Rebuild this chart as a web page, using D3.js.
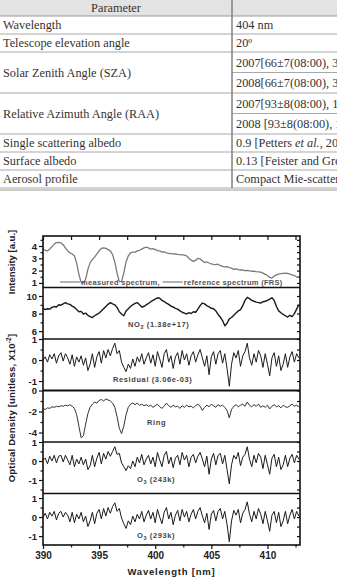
<!DOCTYPE html>
<html>
<head>
<meta charset="utf-8">
<script src="https://cdn.jsdelivr.net/npm/d3@7"></script>
<style>
  body { margin: 0; background: #fff; }
</style>
</head>
<body>
<div id="chart"></div>
<script>
/**
 * DATA
 * */
// table
const paramLabels = ["Wavelength", "Telescope elevation angle", "Solar Zenith Angle (SZA)",
  "Relative Azimuth Angle (RAA)", "Single scattering albedo", "Surface albedo", "Aerosol profile"];
// "|" toggles italic
const paramValues = [
  ["404 nm"],
  ["20º"],
  ["2007[66±7(08:00), 35±5(12:00), 66±7(16:00)]", "2008[66±7(08:00), 34±5(12:00), 66±7(16:00)]"],
  ["2007[93±8(08:00), 180±5(12:00), 267±8(16:00)]", "2008 [93±8(08:00), 180±5(12:00), 267±8(16:00)]"],
  ["0.9 [Petters |et al.|, 2003]"],
  ["0.13 [Feister and Grewe, 1995]"],
  ["Compact Mie-scattering"]
];

// spectra, sampled every 0.2 nm from 390 nm
const wlStart = 390, wlStep = 0.2;

const intensity = [
  3.75, 3.65, 3.6, 3.75, 3.95, 4.15, 4.28, 4.3, 4.25, 4.1,
  3.85, 3.6, 3.45, 3.35, 3.2, 2.6, 1.7, 1.05, 1.0, 1.3,
  2.1, 2.65, 2.9, 3.1, 3.35, 3.6, 3.8, 3.85, 3.8, 3.7,
  3.6, 3.3, 2.7, 1.8, 1.1, 1.1, 1.8, 2.7, 3.2, 3.45,
  3.5, 3.5, 3.6, 3.65, 3.75, 3.85, 3.9, 3.85, 3.75, 3.78,
  3.7, 3.62, 3.6, 3.5, 3.52, 3.45, 3.4, 3.38, 3.36, 3.35,
  3.32, 3.3, 3.28, 3.25, 3.2, 3.0, 2.85, 2.75, 2.85, 3.0,
  2.95, 2.8, 2.65, 2.7, 2.62, 2.55, 2.5, 2.48, 2.52, 2.4,
  2.35, 2.3, 2.32, 2.25, 2.2, 2.1, 2.15, 2.08, 2.05, 2.05,
  2.0, 2.02, 1.98, 1.95, 1.95, 1.92, 1.9, 1.88, 1.8, 1.7,
  1.6, 1.45, 1.4, 1.55, 1.65, 1.72, 1.75, 1.78, 1.8, 1.78,
  1.72, 1.65, 1.6, 1.5, 1.45
];

const no2 = [
  8.6, 8.45, 8.55, 8.5, 8.7, 8.8, 8.75, 9.0, 8.95, 9.1,
  9.25, 9.1, 9.05, 8.85, 8.7, 8.45, 8.2, 8.25, 7.95, 8.05,
  7.8, 7.65, 7.55, 7.75, 7.9, 8.05, 8.3, 8.55, 8.8, 9.05,
  9.25, 9.1, 9.0, 8.7, 8.2, 7.95, 7.75, 8.3, 8.55, 8.8,
  9.0, 9.15, 9.25, 9.0, 8.75, 8.8, 9.0, 9.15, 9.35, 9.5,
  9.65, 9.8, 9.75, 9.5, 9.35, 9.2, 9.05, 8.85, 8.75, 8.6,
  8.5, 8.3, 8.15, 8.05, 7.95, 8.1, 8.0, 8.2, 8.15, 8.5,
  8.9, 9.2, 9.1, 8.9, 8.75, 8.6, 8.55, 8.3, 7.9, 7.6,
  7.2, 6.6, 6.9, 7.4, 7.55, 7.8, 8.05, 8.3, 8.45, 8.9,
  9.5, 9.85, 9.7, 9.5, 9.4, 9.3, 9.25, 9.2, 9.35, 9.4,
  9.5, 9.65, 9.8, 9.5, 8.8, 8.3, 8.1, 7.9, 7.75, 7.6,
  7.8, 7.65, 8.0, 8.5, 9.0
];

const residual = [
  0.0, 0.15, -0.1, 0.25, 0.05, 0.3, -0.15, 0.2, 0.35, -0.05,
  0.3, 0.1, -0.2, 0.25, -0.3, 0.15, -0.1, 0.2, -0.25, 0.1,
  -0.5, -0.2, 0.3, -0.35, 0.15, 0.4, -0.15, 0.45, 0.1, 0.5,
  0.2, 0.55, 0.8, 0.3, 0.45, -0.1, -0.35, -0.55, -0.2, -0.4,
  0.05, -0.3, 0.15, -0.1, 0.3, -0.2, 0.1, 0.35, -0.15, 0.25,
  -0.3, 0.4, 0.05, -0.35, 0.3, 0.5, -0.1, 0.2, -0.4, 0.15,
  0.35, -0.2, 0.45, 0.0, 0.3, -0.25, 0.2, 0.4, -0.1, 0.25,
  0.5, 0.1, -0.3, 0.2, -0.7, 0.15, 0.4, -0.2, 0.3, 0.45,
  -0.15, 0.3, -0.4, -1.25, -0.2, 0.35, 0.1, 0.45, -0.3, 0.2,
  0.4, 0.8, 0.1, -0.25, 0.3, -0.1, 0.45, 0.2, -0.35, 0.3,
  -0.2, -0.75, 0.1, 0.35, -0.3, 0.2, -0.5, -0.2, 0.3, -0.35,
  0.15, 0.4, -0.1, 0.3, 0.1
];

const ring = [
  -1.75, -1.8, -1.65, -1.7, -1.55, -1.6, -1.5, -1.55, -1.45, -1.5,
  -1.4, -1.45, -1.35, -1.5, -1.7, -2.3, -3.4, -4.5, -4.3, -3.2,
  -2.2, -1.6, -1.3, -1.1, -1.2, -0.95, -0.85, -1.0, -0.8, -0.9,
  -1.0, -1.2, -1.6, -2.5, -3.6, -4.1, -3.4, -2.3, -1.6, -1.3,
  -1.2, -1.35, -1.2, -1.4, -1.3, -1.45, -1.35, -1.5, -1.4, -1.6,
  -1.45, -1.3, -1.55, -1.7, -1.5, -1.2, -1.45, -1.6, -1.4, -1.55,
  -1.5, -1.7, -1.45, -1.6, -1.4, -1.55, -1.5, -1.65, -1.45, -1.3,
  -1.5, -1.9, -1.6, -1.4, -1.55, -1.3, -1.45, -1.6, -1.35, -1.5,
  -1.4, -1.6, -1.9, -2.6, -1.8, -1.5, -1.35, -1.55, -1.4, -1.3,
  -1.5, -1.1, -1.4, -1.55, -1.35, -1.5, -1.3, -1.6, -1.45, -1.6,
  -1.4, -1.75, -1.5, -1.35, -1.55, -1.45, -1.65, -1.4, -1.55, -1.6,
  -1.45, -1.3, -1.5, -1.4, -1.55
];

const o3_243 = [
  0.05, 0.15, -0.15, 0.25, 0.0, 0.3, -0.1, 0.25, 0.3, -0.05,
  0.3, 0.05, -0.2, 0.3, -0.3, 0.1, -0.15, 0.2, -0.2, 0.1,
  -0.45, -0.25, 0.3, -0.3, 0.15, 0.45, -0.15, 0.4, 0.1, 0.5,
  0.25, 0.5, 0.75, 0.35, 0.4, -0.1, -0.3, -0.5, -0.25, -0.4,
  0.0, -0.3, 0.2, -0.1, 0.35, -0.2, 0.1, 0.3, -0.15, 0.2,
  -0.3, 0.45, 0.05, -0.3, 0.3, 0.5, -0.15, 0.2, -0.35, 0.15,
  0.3, -0.2, 0.45, 0.05, 0.3, -0.3, 0.2, 0.35, -0.1, 0.25,
  0.45, 0.1, -0.3, 0.25, -0.7, 0.1, 0.4, -0.2, 0.3, 0.4,
  -0.15, 0.3, -0.45, -1.2, -0.2, 0.3, 0.1, 0.45, -0.25, 0.2,
  0.35, 0.75, 0.1, -0.3, 0.3, -0.1, 0.4, 0.2, -0.4, 0.3,
  -0.2, -0.7, 0.15, 0.35, -0.3, 0.2, -0.45, -0.2, 0.3, -0.3,
  0.15, 0.35, -0.1, 0.3, 0.1
];

const o3_293 = [
  0.0, 0.2, -0.1, 0.25, 0.05, 0.3, -0.15, 0.2, 0.3, 0.0,
  0.25, 0.1, -0.25, 0.25, -0.3, 0.15, -0.1, 0.25, -0.25, 0.05,
  -0.5, -0.2, 0.25, -0.35, 0.2, 0.4, -0.1, 0.45, 0.05, 0.5,
  0.2, 0.55, 0.75, 0.3, 0.45, -0.05, -0.35, -0.6, -0.2, -0.4,
  0.05, -0.25, 0.15, -0.1, 0.3, -0.25, 0.1, 0.35, -0.1, 0.25,
  -0.3, 0.4, 0.0, -0.35, 0.25, 0.5, -0.1, 0.25, -0.4, 0.1,
  0.35, -0.2, 0.4, 0.0, 0.3, -0.25, 0.15, 0.4, -0.1, 0.3,
  0.5, 0.05, -0.3, 0.2, -0.65, 0.15, 0.35, -0.2, 0.3, 0.45,
  -0.1, 0.3, -0.4, -1.3, -0.2, 0.35, 0.1, 0.4, -0.3, 0.2,
  0.4, 0.8, 0.15, -0.25, 0.3, -0.1, 0.45, 0.15, -0.35, 0.3,
  -0.2, -0.75, 0.1, 0.3, -0.3, 0.25, -0.5, -0.2, 0.3, -0.35,
  0.1, 0.4, -0.1, 0.3, 0.05
];

// panels, top to bottom
const panelSeries = [intensity, no2, residual, ring, o3_243, o3_293];
const panelLabels = [null, "NO|2| (1.38e+17)", "Residual (3.06e-03)", "Ring", "O|3| (243k)", "O|3| (293k)"];
const yDomains = [[0.63, 4.81], [5.1, 10.97], [-1.45, 1.0], [-4.9, 0], [-1.71, 1.0], [-1.47, 1.24]];
const yMajor = [[1, 2, 3, 4], [6, 8, 10], [-1, 0, 1], [-4, -2, 0], [-1, 0, 1], [-1, 0, 1]];
const yMinor = [[1.5, 2.5, 3.5, 4.5], [7, 9], [-0.5, 0.5], [-3, -1], [-1.5, -0.5, 0.5], [-0.5, 0.5]];
const xMajor = [390, 395, 400, 405, 410];
const xMinor = [392.5, 397.5, 402.5, 407.5, 412.5];
const legendLabels = ["measured spectrum,", "reference spectrum (FRS)"];

/**
 * LAYOUT
 * */
const W = 337, H = 577;
const plot = { left: 43, right: 300, top: 236, bottom: 545 };
const panelH = (plot.bottom - plot.top) / panelSeries.length;
const sans = "'Liberation Sans', Arial, sans-serif";
const serif = "'Liberation Serif', 'Times New Roman', serif";

const svg = d3.select("#chart").append("svg")
  .attr("width", W)
  .attr("height", H);

/**
 * TABLE
 * */
const tbl = svg.append("g")
  .attr("font-family", serif)
  .attr("font-size", 12.3)
  .attr("fill", "#333");

const headH = 16, colX = 232;
tbl.append("rect")
  .attr("x", 0).attr("y", 0)
  .attr("width", W).attr("height", headH)
  .attr("fill", "#e3e3e3");
tbl.append("text")
  .attr("x", colX / 2).attr("y", 12)
  .attr("text-anchor", "middle")
  .text("Parameter");

const hline = (x1, x2, y, c = "#a8a8a8", w = 1) =>
  tbl.append("line").attr("x1", x1).attr("x2", x2).attr("y1", y).attr("y2", y)
    .attr("stroke", c).attr("stroke-width", w);

hline(0, W, headH, "#999");
let yy = headH;
paramLabels.forEach((label, i) => {
  const vals = paramValues[i];
  const subH = vals.length > 1 ? 20.5 : 18;
  const h = subH * vals.length;
  tbl.append("text")
    .attr("x", 3)
    .attr("y", yy + h / 2 + 4.3)
    .text(label);
  vals.forEach((v, j) => {
    const t = tbl.append("text")
      .attr("x", colX + 4)
      .attr("y", yy + subH * j + subH / 2 + 4.3);
    v.split("|").forEach((part, k) => {
      t.append("tspan").attr("font-style", k % 2 ? "italic" : null).text(part);
    });
    if (j > 0) hline(colX, W, yy + subH * j);
  });
  yy += h;
  hline(0, W, yy);
});
hline(0, W, yy + 2, "#999");
tbl.append("line")
  .attr("x1", colX).attr("x2", colX).attr("y1", 0).attr("y2", yy)
  .attr("stroke", "#808080").attr("stroke-width", 1.5);

/**
 * CHART
 * */
const x = d3.scaleLinear().domain([390, 412.9]).range([plot.left, plot.right]);

const chart = svg.append("g").attr("font-family", sans);

const styleAxis = g => {
  g.select(".domain").remove();
  g.selectAll(".tick line").attr("stroke", "#111").attr("stroke-width", 1.2);
  g.selectAll(".tick text").attr("font-size", 9.5).attr("font-weight", "bold").attr("fill", "#222");
};

panelSeries.forEach((series, p) => {
  const top = plot.top + p * panelH;
  const y = d3.scaleLinear().domain(yDomains[p]).range([top + panelH, top]);

  // left axis
  chart.append("g")
    .attr("transform", `translate(${plot.left},0)`)
    .call(d3.axisLeft(y).tickValues(yMajor[p]).tickSize(4).tickPadding(2).tickFormat(d => String(d)))
    .call(styleAxis);
  chart.append("g")
    .attr("transform", `translate(${plot.left},0)`)
    .call(d3.axisLeft(y).tickValues(yMinor[p]).tickSize(2.5).tickFormat(""))
    .call(styleAxis);
  // right axis, inward
  chart.append("g")
    .attr("transform", `translate(${plot.right},0)`)
    .call(d3.axisRight(y).tickValues(yMajor[p].concat(yMinor[p])).tickSize(-3).tickFormat(""))
    .call(styleAxis);

  const line = d3.line()
    .x((d, i) => x(wlStart + i * wlStep))
    .y(d => y(d));

  chart.append("path")
    .datum(series)
    .attr("fill", "none")
    .attr("stroke", p === 0 ? "#7a7a7a" : (p === 3 ? "#333" : "#1a1a1a"))
    .attr("stroke-width", p === 0 ? 1.3 : (p === 1 ? 1.4 : 1))
    .attr("stroke-linejoin", "round")
    .attr("d", line);

  // panel label
  if (panelLabels[p]) {
    const lx = { 1: 128, 2: 113, 3: 147, 4: 137, 5: 137 }[p];
    const ly = { 1: 327, 2: 382, 3: 425, 4: 482, 5: 538 }[p];
    const t = chart.append("text")
      .attr("x", lx).attr("y", ly)
      .attr("font-size", 7.5)
      .attr("font-weight", "bold")
      .attr("letter-spacing", 0.6)
      .attr("fill", "#444");
    panelLabels[p].split("|").forEach((part, k) => {
      const s = t.append("tspan").text(part);
      if (k % 2) s.attr("font-size", 5.5).attr("dy", 2);
      else if (k > 0) s.attr("dy", -2);
    });
  }

  // separator
  if (p > 0) {
    chart.append("line")
      .attr("x1", plot.left).attr("x2", plot.right)
      .attr("y1", top).attr("y2", top)
      .attr("stroke", "#111")
      .attr("stroke-width", p === 3 ? 2.2 : 1.3);
  }
});

// legend in intensity panel
const legY = 284.5;
let lx = 60;
legendLabels.forEach((lab, i) => {
  chart.append("line")
    .attr("x1", lx).attr("x2", lx + 20)
    .attr("y1", legY - 2.5).attr("y2", legY - 2.5)
    .attr("stroke", "#666").attr("stroke-width", 1);
  const t = chart.append("text")
    .attr("x", lx + 21).attr("y", legY)
    .attr("font-size", 7.5)
    .attr("font-weight", "bold")
    .attr("letter-spacing", 0.3)
    .attr("fill", "#555")
    .text(lab);
  lx += 21 + t.node().getComputedTextLength() + 3;
});

// x axes
chart.append("g")
  .attr("transform", `translate(0,${plot.bottom})`)
  .call(d3.axisBottom(x).tickValues(xMajor).tickSize(4).tickPadding(3).tickFormat(d3.format("d")))
  .call(styleAxis);
chart.append("g")
  .attr("transform", `translate(0,${plot.bottom})`)
  .call(d3.axisBottom(x).tickValues(xMinor).tickSize(2.5).tickFormat(""))
  .call(styleAxis);
chart.append("g")
  .attr("transform", `translate(0,${plot.top})`)
  .call(d3.axisTop(x).tickValues(xMajor.concat(xMinor)).tickSize(-4).tickFormat(""))
  .call(styleAxis);
chart.selectAll("g").filter(function () { return this.getAttribute("transform") === `translate(0,${plot.bottom})`; })
  .selectAll(".tick text").attr("font-size", 10);

// frame
chart.append("rect")
  .attr("x", plot.left).attr("y", plot.top)
  .attr("width", plot.right - plot.left).attr("height", plot.bottom - plot.top)
  .attr("fill", "none")
  .attr("stroke", "#111")
  .attr("stroke-width", 1.6);

// axis titles
chart.append("text")
  .attr("x", (plot.left + plot.right) / 2).attr("y", 575)
  .attr("text-anchor", "middle")
  .attr("font-size", 9.5)
  .attr("font-weight", "bold")
  .attr("letter-spacing", 0.8)
  .attr("fill", "#222")
  .text("Wavelength [nm]");

chart.append("text")
  .attr("transform", "translate(15,262) rotate(-90)")
  .attr("text-anchor", "middle")
  .attr("font-size", 9.5)
  .attr("font-weight", "bold")
  .attr("fill", "#222")
  .text("Intensity [a.u.]");

const od = chart.append("text")
  .attr("transform", "translate(15,408) rotate(-90)")
  .attr("text-anchor", "middle")
  .attr("font-size", 9.5)
  .attr("font-weight", "bold")
  .attr("letter-spacing", 0.2)
  .attr("fill", "#222");
od.append("tspan").text("Optical Density [unitless, X10");
od.append("tspan").attr("font-size", 6.5).attr("dy", -4).text("-2");
od.append("tspan").attr("dy", 4).text("]");
</script>
</body>
</html>
